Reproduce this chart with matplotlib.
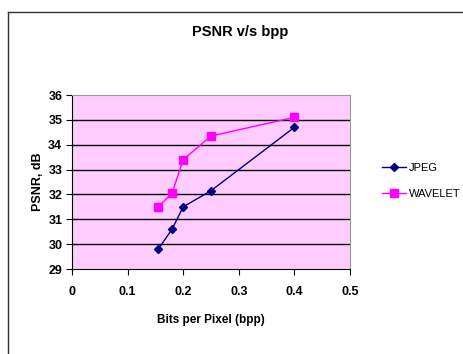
import matplotlib
import matplotlib.pyplot as plt
from matplotlib.lines import Line2D

matplotlib.rc("font", family="Liberation Sans", weight="bold")

bpp = [0.155, 0.18, 0.2, 0.25, 0.4]
jpeg = [29.8, 30.6, 31.5, 32.15, 34.7]
wavelet = [31.5, 32.05, 33.4, 34.35, 35.1]
xticks = [0, 0.1, 0.2, 0.3, 0.4, 0.5]
xticklabels = ["0", "0.1", "0.2", "0.3", "0.4", "0.5"]
yticks = [29, 30, 31, 32, 33, 34, 35, 36]

W, H = 463, 354
fig = plt.figure(figsize=(W / 100, H / 100), dpi=100)
ax = fig.add_axes([72 / W, 1 - 269 / H, (350 - 72) / W, (269 - 95) / H])
ax.set_facecolor("#FFCCFF")

for y in yticks[1:-1]:
    ax.axhline(y, color="black", lw=1, zorder=1)

ax.plot(bpp, jpeg, color="#000080", marker="D", ms=4, lw=1, label="JPEG", zorder=3)
ax.plot(bpp, wavelet, color="#FF00FF", marker="s", ms=6, lw=1, label="WAVELET", zorder=3)

ax.set_xlim(0, 0.5)
ax.set_ylim(29, 36)
ax.set_xticks(xticks)
ax.set_xticklabels(xticklabels)
ax.set_yticks(yticks)
ax.tick_params(labelsize=9, length=4, color="black", direction="out", pad=8)
ax.tick_params(axis="y", pad=3)
for s in ["top", "right"]:
    ax.spines[s].set_color("#999999")
for s in ["left", "bottom"]:
    ax.spines[s].set_color("black")

ax.set_xlabel("Bits per Pixel (bpp)", fontsize=8.5, fontweight="bold", labelpad=12)
ax.set_ylabel("PSNR, dB", fontsize=9, fontweight="bold", labelpad=3)
fig.text(240 / W, 1 - 32 / H, "PSNR v/s bpp", ha="center", va="center",
         fontsize=10.5, fontweight="bold")

ax.legend(loc="center left", bbox_to_anchor=(372 / W, 1 - 181 / H),
          bbox_transform=fig.transFigure, frameon=False,
          handlelength=2.2, handletextpad=0.2, labelspacing=1.4,
          prop={"weight": "normal", "size": 8})

fig.add_artist(Line2D([8 / W, 8 / W], [0, 1 - 12 / H], color="#333333", lw=1,
                      transform=fig.transFigure))
fig.add_artist(Line2D([8 / W, 1], [1 - 12 / H, 1 - 12 / H], color="#333333", lw=1,
                      transform=fig.transFigure))

fig.savefig("out.png", dpi=100)
